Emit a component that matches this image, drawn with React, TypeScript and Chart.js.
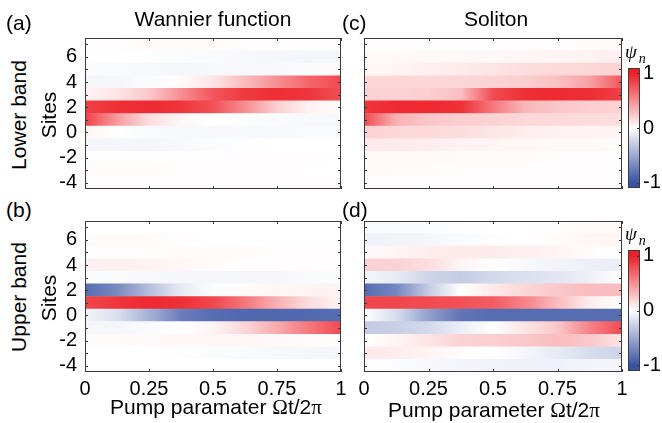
import React, { useEffect, useRef } from 'react';
import { Chart, registerables } from 'chart.js';

Chart.register(...registerables);

// Pump parameter sample positions (Ωt/2π) at which each row's amplitude was read
const pumpSamples = [0, 0.125, 0.25, 0.375, 0.5, 0.625, 0.75, 0.875, 1];
// Lattice sites, top row first
const sites = [7, 6, 5, 4, 3, 2, 1, 0, -1, -2, -3, -4];
const xTickValues = [0, 0.25, 0.5, 0.75, 1];
const yTickValues = [-4, -2, 0, 2, 4, 6];
const colorbarTicks = [-1, 0, 1];

// (a) Wannier function, lower band
const wannierLower = [
  [0.01, 0.01, 0.02, 0.02, 0.02, 0.01, 0.01, 0.01, 0.01],
  [0, 0, -0.01, -0.02, -0.03, -0.04, -0.05, -0.06, -0.06],
  [-0.02, -0.03, -0.04, -0.05, -0.04, -0.04, -0.04, -0.02, 0.03],
  [-0.05, -0.05, -0.02, 0.02, 0.12, 0.3, 0.5, 0.68, 0.8],
  [0.05, 0.12, 0.25, 0.5, 0.75, 0.88, 0.93, 0.9, 0.78],
  [0.85, 0.92, 0.95, 0.9, 0.78, 0.5, 0.22, 0.06, 0.02],
  [0.85, 0.45, 0.15, 0.04, 0, -0.02, -0.03, -0.04, -0.04],
  [0.05, 0, -0.03, -0.04, -0.04, -0.04, -0.04, -0.03, -0.03],
  [-0.06, -0.06, -0.05, -0.04, -0.02, -0.01, 0, 0, 0],
  [0.01, 0.01, 0.01, 0.01, 0.01, 0.01, 0.01, 0.01, 0],
  [0.02, 0.02, 0.02, 0.01, 0.01, 0.01, 0.01, 0, 0],
  [0.01, 0.01, 0.01, 0.01, 0.01, 0.01, 0.01, 0.01, 0.01],
];

// (c) Soliton, lower band
const solitonLower = [
  [0.01, 0.01, 0.01, 0.01, 0.01, 0.01, 0.01, 0.02, 0.02],
  [0.03, 0.03, 0.03, 0.03, 0.03, 0.04, 0.05, 0.06, 0.08],
  [0.04, 0.05, 0.07, 0.09, 0.12, 0.15, 0.17, 0.18, 0.2],
  [0.18, 0.18, 0.18, 0.18, 0.2, 0.22, 0.28, 0.42, 0.75],
  [0.2, 0.2, 0.22, 0.28, 0.8, 0.93, 0.95, 0.93, 0.85],
  [0.9, 0.95, 0.95, 0.92, 0.6, 0.32, 0.25, 0.22, 0.2],
  [0.8, 0.35, 0.25, 0.22, 0.2, 0.18, 0.17, 0.16, 0.15],
  [0.2, 0.18, 0.17, 0.15, 0.12, 0.08, 0.06, 0.05, 0.05],
  [0.1, 0.09, 0.08, 0.06, 0.05, 0.04, 0.03, 0.03, 0.02],
  [0.03, 0.03, 0.03, 0.02, 0.02, 0.02, 0.01, 0.01, 0.01],
  [0.03, 0.02, 0.02, 0.01, 0.01, 0.01, 0.01, 0.01, 0.01],
  [0.01, 0.01, 0.01, 0.01, 0.01, 0.01, 0.01, 0.01, 0.01],
];

// (b) Wannier function, upper band
const wannierUpper = [
  [0, 0, 0, 0, 0, 0, 0, 0, 0],
  [0.02, 0.02, 0.02, 0.01, 0, 0, 0, 0, 0],
  [0.01, 0.01, 0.01, 0.02, 0.02, 0.02, 0.01, 0.01, 0.01],
  [0.07, 0.07, 0.06, 0.04, 0.02, 0.01, 0.01, 0.01, 0.01],
  [-0.02, -0.03, -0.04, -0.05, -0.05, -0.05, -0.05, -0.03, -0.02],
  [-0.85, -0.68, -0.38, -0.12, -0.02, 0.02, 0.04, 0.05, 0.06],
  [0.82, 0.9, 0.95, 0.92, 0.82, 0.6, 0.35, 0.15, 0.05],
  [-0.06, -0.18, -0.45, -0.75, -0.85, -0.88, -0.88, -0.87, -0.85],
  [-0.05, -0.05, -0.03, 0, 0.05, 0.18, 0.38, 0.6, 0.8],
  [0.02, 0.02, 0.03, 0.04, 0.04, 0.04, 0.03, 0.02, 0.01],
  [0, 0, 0, -0.01, -0.02, -0.03, -0.04, -0.05, -0.06],
  [0, 0, 0, 0, 0, 0, 0, 0, 0],
];

// (d) Soliton, upper band
const solitonUpper = [
  [-0.03, -0.03, -0.02, -0.01, 0, 0, 0.01, 0.02, 0.02],
  [-0.08, -0.07, -0.05, -0.03, -0.01, 0, 0.02, 0.04, 0.05],
  [0.02, 0.05, 0.08, 0.1, 0.09, 0.07, 0.05, 0.02, 0],
  [0.2, 0.2, 0.15, 0.05, 0, -0.04, -0.07, -0.09, -0.1],
  [-0.05, -0.12, -0.25, -0.3, -0.22, -0.18, -0.15, -0.08, 0],
  [-0.85, -0.7, -0.3, 0, 0.1, 0.18, 0.25, 0.3, 0.3],
  [0.82, 0.82, 0.8, 0.78, 0.72, 0.55, 0.3, 0.08, 0],
  [0, -0.2, -0.55, -0.8, -0.85, -0.85, -0.85, -0.85, -0.85],
  [-0.3, -0.28, -0.22, -0.1, 0, 0.12, 0.25, 0.55, 0.8],
  [0, 0.05, 0.12, 0.2, 0.22, 0.25, 0.3, 0.25, 0.12],
  [0.1, 0.08, 0.05, 0.02, 0, -0.05, -0.12, -0.2, -0.25],
  [0, -0.02, -0.04, -0.06, -0.07, -0.08, -0.08, -0.06, -0.05],
];

const RED = [237, 30, 38];
const BLUE = [57, 83, 164];
const FONT = '"Liberation Sans", Arial, Helvetica, sans-serif';
const SERIF = '"Liberation Serif", "Times New Roman", serif';

function colorFor(v: number): string {
  const t = Math.max(-1, Math.min(1, v));
  const c = t >= 0 ? RED : BLUE;
  const a = Math.abs(t);
  const r = Math.round(255 + (c[0] - 255) * a);
  const g = Math.round(255 + (c[1] - 255) * a);
  const b = Math.round(255 + (c[2] - 255) * a);
  return `rgb(${r},${g},${b})`;
}

function makeFrame(yMarks: number[], xMarks: number[], sides: { left: boolean; right: boolean }) {
  return {
    id: 'frame',
    afterDatasetsDraw(chart: any) {
      const { ctx, chartArea: a, scales } = chart;
      ctx.save();
      ctx.strokeStyle = '#3a3a3a';
      ctx.lineWidth = 1;
      ctx.strokeRect(a.left + 0.5, a.top + 0.5, a.right - a.left - 1, a.bottom - a.top - 1);
      ctx.beginPath();
      const tl = 3;
      yMarks.forEach((v) => {
        const y = Math.round(scales.y.getPixelForValue(v)) + 0.5;
        if (sides.left) {
          ctx.moveTo(a.left, y);
          ctx.lineTo(a.left + tl, y);
        }
        if (sides.right) {
          ctx.moveTo(a.right - tl, y);
          ctx.lineTo(a.right, y);
        }
      });
      if (scales.x && scales.x.type === 'linear') {
        xMarks.forEach((v) => {
          const x = Math.round(scales.x.getPixelForValue(v)) + 0.5;
          ctx.moveTo(x, a.top);
          ctx.lineTo(x, a.top + tl);
          ctx.moveTo(x, a.bottom - tl);
          ctx.lineTo(x, a.bottom);
        });
      }
      ctx.stroke();
      ctx.restore();
    },
  };
}

function heatmap(canvas: HTMLCanvasElement, rows: number[][], showY: boolean, showX: boolean, padding: any) {
  return new Chart(canvas, {
    type: 'bar',
    data: {
      datasets: [
        {
          data: sites.map((s) => ({ x: [0, 1], y: s })) as any,
          backgroundColor: (c: any) => {
            const chart = c.chart;
            if (!chart.chartArea || c.type !== 'data') return 'rgba(0,0,0,0)';
            const row = rows[c.dataIndex];
            const xs = chart.scales.x;
            const g = chart.ctx.createLinearGradient(xs.getPixelForValue(0), 0, xs.getPixelForValue(1), 0);
            pumpSamples.forEach((p, i) => g.addColorStop(p, colorFor(row[i])));
            return g;
          },
          borderWidth: 0,
          barPercentage: 1,
          categoryPercentage: 1,
        } as any,
      ],
    },
    options: {
      indexAxis: 'y',
      animation: false,
      responsive: false,
      maintainAspectRatio: false,
      events: [],
      layout: { padding },
      plugins: { legend: { display: false }, tooltip: { enabled: false }, title: { display: false } },
      scales: {
        x: {
          type: 'linear',
          min: 0,
          max: 1,
          offset: false,
          grid: { display: false, drawTicks: false, offset: false },
          border: { display: false },
          ticks: {
            display: showX,
            padding: 5,
            color: '#000',
            font: { family: FONT, size: 20 },
            maxRotation: 0,
            autoSkip: false,
            callback: (v: any) => String(v),
          },
          afterBuildTicks: (s: any) => {
            s.ticks = xTickValues.map((v) => ({ value: v }));
          },
          afterFit: (s: any) => {
            s.height = showX ? 26 : 0;
            s.paddingLeft = 0;
            s.paddingRight = 0;
          },
        },
        y: {
          type: 'linear',
          min: -4.5,
          max: 7.5,
          offset: false,
          grid: { display: false, drawTicks: false, offset: false },
          border: { display: false },
          ticks: {
            display: showY,
            padding: 8,
            color: '#000',
            font: { family: FONT, size: 20 },
            autoSkip: false,
            callback: (v: any) => String(v),
          },
          afterBuildTicks: (s: any) => {
            s.ticks = yTickValues.map((v) => ({ value: v }));
          },
          afterFit: (s: any) => {
            s.width = showY ? 40 : 0;
            s.paddingTop = 0;
            s.paddingBottom = 0;
          },
        },
      },
    } as any,
    plugins: [makeFrame(sites, xTickValues, { left: true, right: true }) as any],
  });
}

function colorbar(canvas: HTMLCanvasElement, padding: any) {
  const lo = -1.1;
  const hi = 1.1;
  return new Chart(canvas, {
    type: 'bar',
    data: {
      labels: ['ψ'],
      datasets: [
        {
          data: [[lo, hi]] as any,
          backgroundColor: (c: any) => {
            const chart = c.chart;
            if (!chart.chartArea || c.type !== 'data') return 'rgba(0,0,0,0)';
            const ys = chart.scales.y;
            const g = chart.ctx.createLinearGradient(0, ys.getPixelForValue(lo), 0, ys.getPixelForValue(hi));
            [-1.1, -1, -0.5, 0, 0.5, 1, 1.1].forEach((v) => g.addColorStop((v - lo) / (hi - lo), colorFor(v)));
            return g;
          },
          borderWidth: 0,
          barPercentage: 1,
          categoryPercentage: 1,
        } as any,
      ],
    },
    options: {
      animation: false,
      responsive: false,
      maintainAspectRatio: false,
      events: [],
      layout: { padding },
      plugins: { legend: { display: false }, tooltip: { enabled: false } },
      scales: {
        x: { display: false },
        y: {
          type: 'linear',
          position: 'right',
          min: lo,
          max: hi,
          grid: { display: false, drawTicks: false },
          border: { display: false },
          ticks: {
            padding: 3,
            color: '#000',
            font: { family: FONT, size: 20 },
            callback: (v: any) => String(v),
          },
          afterBuildTicks: (s: any) => {
            s.ticks = colorbarTicks.map((v) => ({ value: v }));
          },
          afterFit: (s: any) => {
            s.width = 22;
            s.paddingTop = 0;
            s.paddingBottom = 0;
          },
        },
      },
    } as any,
    plugins: [makeFrame(colorbarTicks, [], { left: false, right: true }) as any],
  });
}

const abs = (left: number, top: number, extra: any = {}) => ({
  position: 'absolute' as const,
  left,
  top,
  whiteSpace: 'nowrap' as const,
  ...extra,
});

function Psi({ left, top }: { left: number; top: number }) {
  return (
    <div style={abs(left, top, { fontFamily: SERIF, fontStyle: 'italic', fontSize: 19, lineHeight: '20px' })}>
      ψ<span style={{ fontSize: 14, position: 'relative', top: 5, marginLeft: 2 }}>n</span>
    </div>
  );
}

export default function App() {
  const a = useRef<HTMLCanvasElement>(null);
  const c = useRef<HTMLCanvasElement>(null);
  const b = useRef<HTMLCanvasElement>(null);
  const d = useRef<HTMLCanvasElement>(null);
  const cb1 = useRef<HTMLCanvasElement>(null);
  const cb2 = useRef<HTMLCanvasElement>(null);

  useEffect(() => {
    const charts = [
      heatmap(a.current!, wannierLower, true, false, { left: 0, right: 6, top: 8, bottom: 8 }),
      heatmap(c.current!, solitonLower, false, false, { left: 6, right: 6, top: 8, bottom: 8 }),
      heatmap(b.current!, wannierUpper, true, true, { left: 0, right: 10, top: 8, bottom: 2 }),
      heatmap(d.current!, solitonUpper, false, true, { left: 10, right: 10, top: 8, bottom: 2 }),
      colorbar(cb1.current!, { left: 6, right: 0, top: 8, bottom: 8 }),
      colorbar(cb2.current!, { left: 6, right: 0, top: 8, bottom: 8 }),
    ];
    return () => charts.forEach((ch) => ch.destroy());
  }, []);

  const canvasStyle = (left: number, top: number, width: number, height: number) => ({
    position: 'absolute' as const,
    left,
    top,
    width,
    height,
  });

  const text = { fontFamily: FONT, fontSize: 21, color: '#000', lineHeight: '24px' };
  const rotated = (cx: number, cy: number, s: string) => (
    <div
      style={{
        ...text,
        position: 'absolute',
        left: cx,
        top: cy,
        whiteSpace: 'nowrap',
        transform: 'translate(-50%, -50%) rotate(-90deg)',
      }}
    >
      {s}
    </div>
  );

  return (
    <div style={{ position: 'absolute', left: 0, top: 0, width: 662, height: 423, background: '#fff', overflow: 'hidden' }}>
      <canvas ref={a} width={302} height={167} style={canvasStyle(45, 30, 302, 167)} />
      <canvas ref={c} width={270} height={167} style={canvasStyle(358, 30, 270, 167)} />
      <canvas ref={b} width={306} height={187} style={canvasStyle(45, 213, 306, 187)} />
      <canvas ref={d} width={278} height={187} style={canvasStyle(354, 213, 278, 187)} />
      <canvas ref={cb1} width={40} height={136} style={canvasStyle(622, 60, 40, 136)} />
      <canvas ref={cb2} width={40} height={137} style={canvasStyle(622, 242, 40, 137)} />

      <div style={abs(113, 7, { ...text, width: 200, textAlign: 'center' })}>Wannier function</div>
      <div style={abs(396, 7, { ...text, width: 200, textAlign: 'center' })}>Soliton</div>

      <div style={abs(6, 11, { ...text })}>(a)</div>
      <div style={abs(342, 11, { ...text })}>(c)</div>
      <div style={abs(6, 198, { ...text })}>(b)</div>
      <div style={abs(342, 198, { ...text })}>(d)</div>

      {rotated(19, 115, 'Lower band')}
      {rotated(49, 115, 'Sites')}
      {rotated(19, 297, 'Upper band')}
      {rotated(49, 298, 'Sites')}

      <div style={abs(66, 395, { ...text, width: 300, textAlign: 'center' })}>
        Pump paramater <span style={{ fontFamily: SERIF }}>Ω</span>t/2<span style={{ fontFamily: SERIF }}>π</span>
      </div>
      <div style={abs(344, 398, { ...text, width: 300, textAlign: 'center' })}>
        Pump parameter <span style={{ fontFamily: SERIF }}>Ω</span>t/2<span style={{ fontFamily: SERIF }}>π</span>
      </div>

      <Psi left={625} top={42} />
      <Psi left={625} top={224} />
    </div>
  );
}
